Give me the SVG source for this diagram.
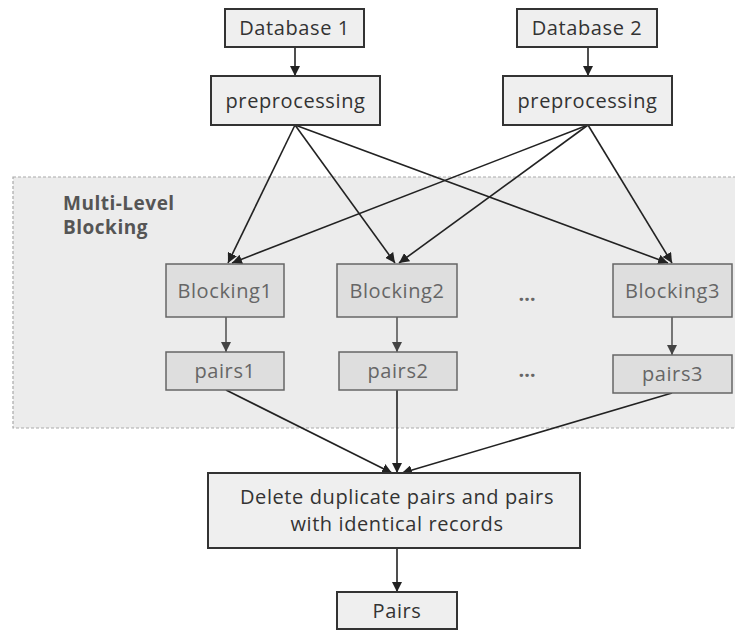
<svg xmlns="http://www.w3.org/2000/svg" width="735" height="632" viewBox="0 0 735 632">
<defs>
<marker id="ah" viewBox="0 0 10 10" refX="10" refY="5" markerWidth="10" markerHeight="10" markerUnits="userSpaceOnUse" orient="auto"><path d="M0,0 L10,5 L0,10 z" fill="#222"/></marker>
<marker id="ahg" viewBox="0 0 10 10" refX="10" refY="5" markerWidth="10" markerHeight="10" markerUnits="userSpaceOnUse" orient="auto"><path d="M0,0 L10,5 L0,10 z" fill="#444"/></marker>
<style>
.top rect{fill:#efefef;stroke:#333;stroke-width:2}
.in rect{fill:#dedede;stroke:#666;stroke-width:1.5}
text{font-family:"Open Sans","Noto Sans","Liberation Sans",sans-serif;text-anchor:middle;font-size:20px;letter-spacing:0.6px}
.top text{fill:#333}
.in text{fill:#666}
.c line{stroke:#222;stroke-width:1.6;marker-end:url(#ah)}
.c line.g{stroke:#444;stroke-width:1.4;marker-end:url(#ahg)}
.lbl{font-size:19px;font-weight:bold;fill:#555;text-anchor:start;letter-spacing:0.5px}
.dots{fill:#666;font-size:20px;font-weight:bold;letter-spacing:0}
</style>
</defs>
<rect x="13" y="177" width="730" height="251" fill="#ececec" stroke="#aaa" stroke-width="1.2" stroke-dasharray="3,2"/>
<text class="lbl" x="63" y="210">Multi-Level</text>
<text class="lbl" x="63" y="234">Blocking</text>
<g class="c">
<line x1="295" y1="47" x2="295" y2="76"/>
<line x1="588" y1="47" x2="588" y2="76"/>
<line x1="295" y1="125" x2="228" y2="263"/>
<line x1="295" y1="125" x2="395" y2="263"/>
<line x1="295" y1="125" x2="668" y2="263"/>
<line x1="588" y1="125" x2="232" y2="263"/>
<line x1="588" y1="125" x2="399" y2="263"/>
<line x1="588" y1="125" x2="672" y2="263"/>
<line class="g" x1="226" y1="317" x2="226" y2="352"/>
<line class="g" x1="397" y1="317" x2="397" y2="352"/>
<line class="g" x1="672" y1="317" x2="672" y2="355"/>
<line x1="226" y1="390" x2="392" y2="473"/>
<line x1="397" y1="390" x2="397" y2="473"/>
<line x1="672" y1="393" x2="402" y2="473"/>
<line x1="397" y1="548" x2="397" y2="592"/>
</g>
<g id="db1" class="top"><rect x="225" y="9" width="139" height="38"/><text x="294.5" y="35">Database 1</text></g>
<g id="db2" class="top"><rect x="517" y="9" width="140" height="38"/><text x="587" y="35">Database 2</text></g>
<g id="pre1" class="top"><rect x="211" y="76" width="169" height="49"/><text x="295.5" y="108">preprocessing</text></g>
<g id="pre2" class="top"><rect x="503" y="76" width="169" height="49"/><text x="587.5" y="108">preprocessing</text></g>
<g id="b1" class="in"><rect x="166" y="264" width="118" height="53"/><text x="225" y="298">Blocking1</text></g>
<g id="b2" class="in"><rect x="337" y="264" width="120" height="53"/><text x="397" y="298">Blocking2</text></g>
<g id="b3" class="in"><rect x="613" y="264" width="119" height="53"/><text x="672.5" y="298">Blocking3</text></g>
<g id="p1" class="in"><rect x="166" y="352" width="118" height="38"/><text x="225" y="378">pairs1</text></g>
<g id="p2" class="in"><rect x="339" y="352" width="118" height="38"/><text x="398" y="378">pairs2</text></g>
<g id="p3" class="in"><rect x="613" y="355" width="119" height="38"/><text x="672.5" y="381">pairs3</text></g>
<text class="dots" x="527" y="301">…</text>
<text class="dots" x="527" y="377">…</text>
<g id="del" class="top"><rect x="208" y="473" width="372" height="75"/><text x="397" y="504">Delete duplicate pairs and pairs</text><text x="397" y="531">with identical records</text></g>
<g id="pairs" class="top"><rect x="337" y="592" width="120" height="37"/><text x="397" y="618">Pairs</text></g>
</svg>
